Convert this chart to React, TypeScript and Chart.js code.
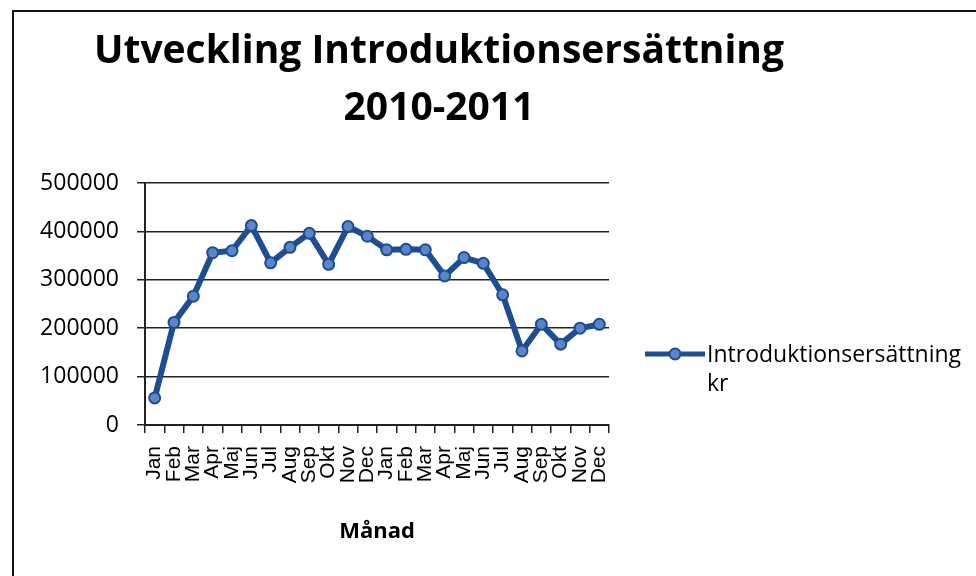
import React, { useEffect, useRef } from "react";
import { Chart, registerables } from "chart.js";

Chart.register(...registerables);

const months = [
  "Jan", "Feb", "Mar", "Apr", "Maj", "Jun", "Jul", "Aug", "Sep", "Okt", "Nov", "Dec",
  "Jan", "Feb", "Mar", "Apr", "Maj", "Jun", "Jul", "Aug", "Sep", "Okt", "Nov", "Dec",
];
const values = [
  56000, 212000, 266000, 356000, 360000, 412000, 335000, 367000, 396000, 332000, 410000, 390000,
  362000, 363000, 362000, 308000, 346000, 334000, 269000, 153000, 208000, 167000, 200000, 208000,
];
const titleLines = ["Utveckling Introduktionsersättning", "2010-2011"];
const seriesLabel = ["Introduktionsersättning", "kr"];
const axisTitle = "Månad";

const LINE = "#1f4d93";
const POINT = "#5a86c8";

const overlayPlugin = {
  id: "overlay",
  afterDraw(chart: any) {
    const ctx = chart.ctx;
    const area = chart.chartArea;
    ctx.save();
    // title
    ctx.fillStyle = "#000";
    ctx.textAlign = "center";
    ctx.textBaseline = "alphabetic";
    ctx.font = "bold 39px 'Open Sans'";
    const cx = 439;
    ctx.fillText(titleLines[0], cx, 63);
    ctx.fillText(titleLines[1], cx, 120);
    // legend
    const lx = area.right + 36;
    const ly = 354;
    ctx.strokeStyle = LINE;
    ctx.lineWidth = 5;
    ctx.beginPath();
    ctx.moveTo(lx, ly);
    ctx.lineTo(lx + 60, ly);
    ctx.stroke();
    ctx.beginPath();
    ctx.arc(lx + 30, ly, 5.5, 0, Math.PI * 2);
    ctx.fillStyle = POINT;
    ctx.fill();
    ctx.lineWidth = 2;
    ctx.stroke();
    ctx.fillStyle = "#000";
    ctx.textAlign = "left";
    ctx.font = "500 23px 'Open Sans'";
    ctx.fillText(seriesLabel[0], lx + 62, 362);
    ctx.fillText(seriesLabel[1], lx + 62, 391);
    ctx.restore();
  },
};

export default function App() {
  const ref = useRef<HTMLCanvasElement | null>(null);
  useEffect(() => {
    if (!ref.current) return;
    const chart = new Chart(ref.current, {
      type: "line",
      data: {
        labels: months,
        datasets: [
          {
            label: seriesLabel.join(" "),
            data: values,
            borderColor: LINE,
            borderWidth: 6,
            pointRadius: 5.5,
            pointBackgroundColor: POINT,
            pointBorderColor: LINE,
            pointBorderWidth: 2,
            tension: 0,
          },
        ],
      },
      options: {
        responsive: false,
        animation: false,
        devicePixelRatio: 1,
        layout: { padding: { top: 183, left: 0, right: 367, bottom: 0 } },
        plugins: {
          legend: { display: false },
          title: { display: false },
          tooltip: { enabled: false },
        },
        scales: {
          x: {
            offset: true,
            afterFit: (s: any) => {
              s.height = 151;
            },
            grid: {
              offset: true,
              drawOnChartArea: false,
              drawTicks: true,
              tickLength: 8,
              color: "#222",
              lineWidth: 1.5,
            },
            border: { color: "#222", width: 2 },
            ticks: {
              autoSkip: false,
              minRotation: 90,
              maxRotation: 90,
              padding: 13,
              color: "#000",
              font: { family: "'Liberation Sans', Arial", size: 21 },
            },
            title: {
              display: true,
              text: axisTitle,
              color: "#000",
              font: { family: "'Open Sans'", size: 22, weight: "bold" },
              padding: { top: 0, bottom: 31 },
            },
          },
          y: {
            min: 0,
            max: 500000,
            afterFit: (s: any) => {
              s.width = 145;
            },
            grid: {
              color: "#222",
              lineWidth: 1.5,
              tickLength: 8,
              drawTicks: true,
            },
            border: { color: "#222", width: 2 },
            ticks: {
              stepSize: 100000,
              padding: 18,
              color: "#000",
              font: { family: "'Open Sans'", size: 23, weight: "500" },
              callback: (v: any) => String(v),
            },
          },
        },
      },
      plugins: [overlayPlugin],
    });
    return () => chart.destroy();
  }, []);

  return (
    <div style={{ position: "fixed", left: 0, top: 0, width: 976, height: 576, background: "#fff" }}>
      <div
        style={{
          position: "absolute",
          left: 12,
          top: 10,
          width: 990,
          height: 600,
          borderLeft: "2px solid #111",
          borderTop: "2px solid #111",
        }}
      />
      <canvas ref={ref} width={976} height={576} style={{ position: "absolute", left: 0, top: 0 }} />
    </div>
  );
}
